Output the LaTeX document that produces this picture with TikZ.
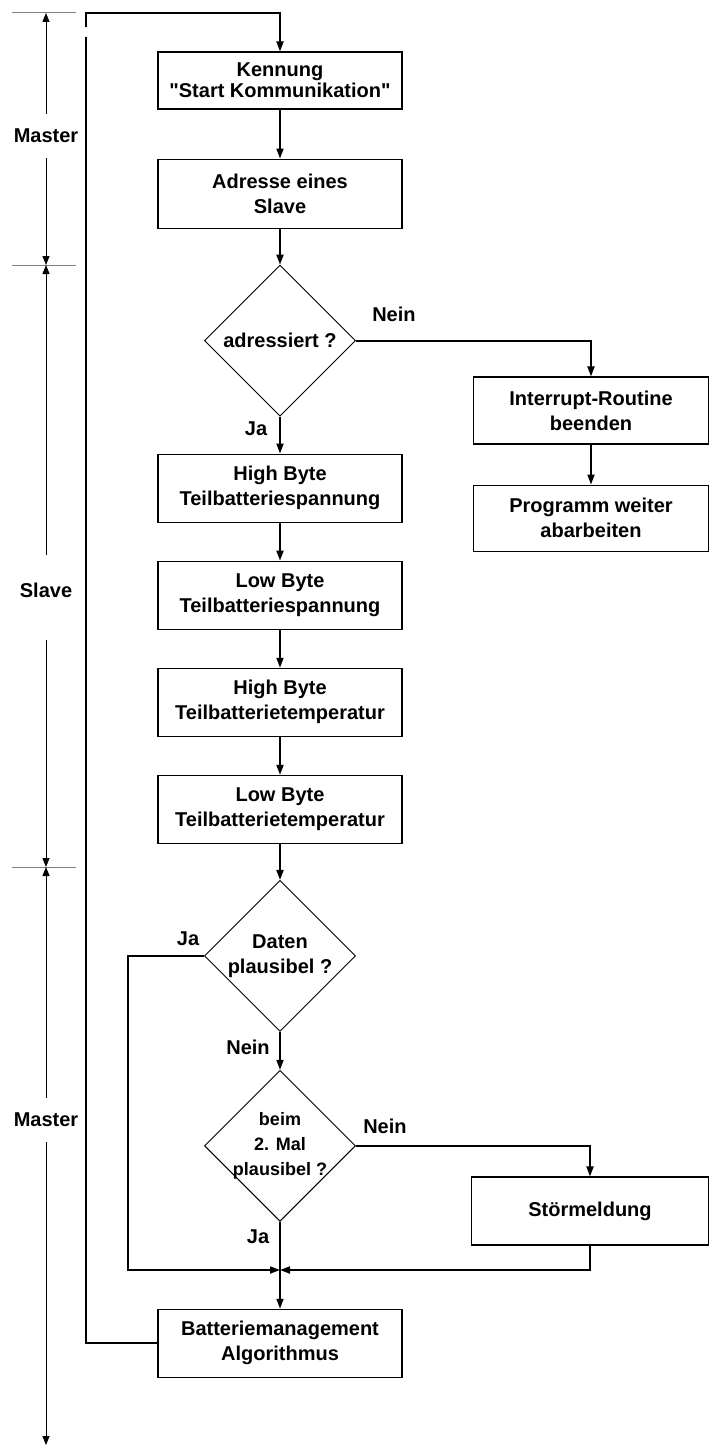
\documentclass[tikz,border=0pt]{standalone}
\usepackage{fontspec}
\newfontfamily\flowfont{Liberation Sans}
\usetikzlibrary{arrows.meta,positioning,shapes.geometric,calc}
\tikzset{
  box/.style ={rectangle,draw,line width=1.1pt,minimum width=244pt,minimum height=68pt,align=center,inner sep=2pt},
  dec/.style ={diamond,draw,line width=0.9pt,aspect=1,minimum size=151pt,align=center,inner sep=0pt},
  ar/.style  ={-{Triangle[length=10pt,width=7pt]},line width=1.8pt},
  ln/.style  ={line width=1.8pt},
  dar/.style ={-{Triangle[length=9pt,width=7pt]},line width=0.9pt},
  tick/.style={black!50,line width=1pt},
  phase/.style={inner ysep=15pt},
}

\begin{document}
\begin{tikzpicture}[x=1pt,y=-1pt,font=\flowfont\bfseries\fontsize{20}{25}\selectfont,node distance=38pt]
  \useasboundingbox (0,0) rectangle (709,1447);
  % main column
  \node[box,minimum height=57pt] (kenn) at (280,80.5) {Kennung\\[-4pt]"Start Kommunikation"};
  \node[box,below=49pt of kenn,minimum height=69pt] (addr) {Adresse eines\\Slave};
  \node[dec,below=36pt of addr] (qadr) {adressiert ?};
  \node[box,below=37pt of qadr] (hbu) {High Byte\\Teilbatteriespannung};
  \node[box,below=of hbu] (lbu) {Low Byte\\Teilbatteriespannung};
  \node[box,below=of lbu] (hbt) {High Byte\\Teilbatterietemperatur};
  \node[box,below=of hbt] (lbt) {Low Byte\\Teilbatterietemperatur};
  \node[dec,below=36pt of lbt] (qok) {Daten\\plausibel ?};
  \node[dec,below=of qok,inner sep=-4pt,font=\flowfont\bfseries\fontsize{18}{25}\selectfont] (qtwo) {beim\\2. Mal\\plausibel ?};
  \node[box,below=87pt of qtwo] (bms) {Batteriemanagement\\Algorithmus};
  % side branches
  \node[box,minimum width=235pt,minimum height=67pt] (intr) at (591,410.5) {Interrupt-Routine\\beenden};
  \node[box,minimum width=235pt,minimum height=66pt,below=40pt of intr] (prog) {Programm weiter\\abarbeiten};
  \node[box,minimum width=237pt] (stoer) at (590,1211) {Störmeldung};
  % branch labels
  \node (n1) at ($(qadr.east)+(38,-26)$) {Nein};
  \node (j1) at ($(qadr.south)+(-24,12)$) {Ja};
  \node (j2) at ($(qok.west)+(-16,-17)$) {Ja};
  \node (n2) at ($(qok.south)+(-32,15)$) {Nein};
  \node (n3) at ($(qtwo.east)+(29,-19)$) {Nein};
  \node (j3) at ($(qtwo.south)+(-22,15)$) {Ja};
  % flow
  \draw[ar] (kenn) -- (addr);
  \draw[ar] (addr) -- (qadr);
  \draw[ar] (qadr) -- (hbu);
  \draw[ar] (hbu) -- (lbu);
  \draw[ar] (lbu) -- (hbt);
  \draw[ar] (hbt) -- (lbt);
  \draw[ar] (lbt) -- (qok);
  \draw[ar] (qok) -- (qtwo);
  \draw[ar] (qtwo) -- (bms);
  \draw[ar] (qadr.east) -| (intr.north);
  \draw[ar] (intr) -- (prog);
  \draw[ar] (qtwo.east) -| (stoer.north);
  \coordinate (join) at (280,1270);
  \draw[ar] (qok.west) -- ++(-76,0) |- (join);
  \draw[ar] (stoer.south) |- (join);
  % return to the start
  \coordinate (lb) at (86,37);
  \coordinate (lt) at (86,27);
  \coordinate (tc) at (86,13);
  \draw[ln] (bms.west) -| (lb);
  \draw[ar] (lt) -- (tc) -| (kenn.north);
  % master / slave phases
  \foreach \y in {13,265,867} \draw[tick] (12,\y) -- (76,\y);
  \coordinate (d0) at (46,13);
  \coordinate (d1) at (46,265);
  \coordinate (d2) at (46,867);
  \coordinate (d3) at (46,1445);
  \node[phase] (ms1) at (46,136) {Master};
  \node[phase] (sl) at (46,590) {Slave};
  \node[phase] (ms2) at (46,1120) {Master};
  \draw[dar] (ms1) -- (d0);
  \draw[dar] (ms1) -- (d1);
  \draw[dar] ([yshift=12pt]sl.north) -- (d1);
  \draw[dar] ([yshift=-27pt]sl.south) -- (d2);
  \draw[dar] (ms2) -- (d2);
  \draw[dar] (ms2) -- (d3);
\end{tikzpicture}
\end{document}
